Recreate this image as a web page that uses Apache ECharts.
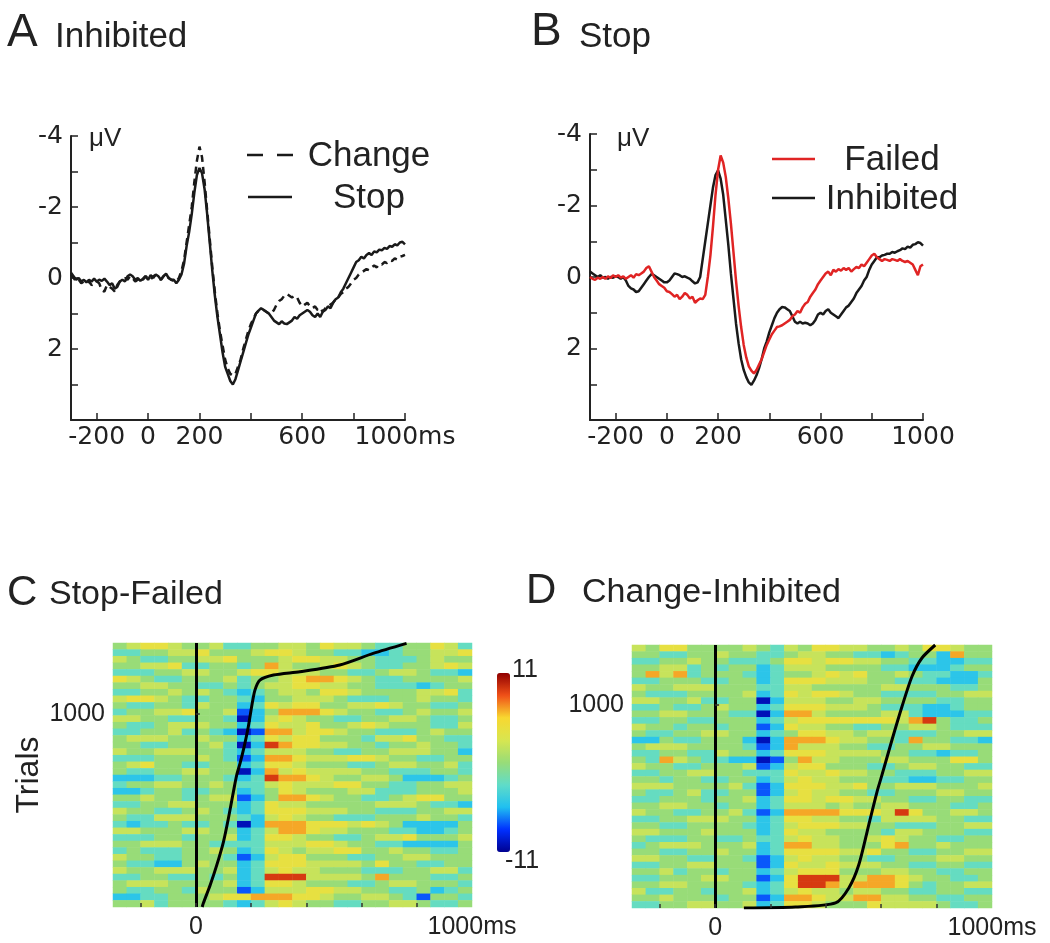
<!DOCTYPE html>
<html>
<head>
<meta charset="utf-8">
<script src="https://cdn.jsdelivr.net/npm/echarts@6/dist/echarts.min.js"></script>
<style>
html, body { margin: 0; padding: 0; background: #fff; }
#chart { width: 1050px; height: 943px; }
</style>
</head>
<body>
<div id="chart"></div>
<script>
// ERP sample grid, ms (10 ms steps)
var erpTimes = [];
for (var t = -300; t <= 1000; t += 10) erpTimes.push(t);

// A: Inhibited trials, Change vs Stop (uV)
var inhibitedChange = [
	-0.1, 0.0, 0.1, 0.05, 0.15, 0.1, 0.15, 0.1, 0.2, 0.15,
	0.1, 0.15, 0.35, 0.38, 0.2, 0.25, 0.3, 0.38, 0.2, 0.1,
	0.05, 0.0, 0.05, -0.05, 0.0, 0.1, 0.05, 0.0, 0.05, -0.05,
	0.0, 0.05, -0.05, -0.08, 0.0, 0.05, -0.05, -0.1, 0.0, 0.05,
	0.08, 0.1, 0.0, -0.2, -0.5, -1.0, -1.5, -2.0, -2.7, -3.3,
	-3.7, -3.4, -2.7, -1.9, -1.1, -0.3, 0.4, 1.0, 1.5, 1.9,
	2.3, 2.55, 2.7, 2.75, 2.7, 2.5, 2.3, 2.0, 1.75, 1.5,
	1.3, 1.15, 1.0, 0.92, 0.88, 0.9, 0.95, 1.0, 1.0, 0.9,
	0.75, 0.65, 0.6, 0.5, 0.45, 0.5, 0.55, 0.5, 0.55, 0.7,
	0.8, 0.75, 0.7, 0.8, 0.85, 0.8, 0.9, 0.85, 0.95, 0.85,
	0.8, 0.75, 0.7, 0.6, 0.55, 0.45, 0.4, 0.3, 0.25, 0.15,
	0.05, 0.0, -0.1, -0.15, -0.2, -0.25, -0.22, -0.3, -0.35, -0.3,
	-0.4, -0.38, -0.45, -0.42, -0.5, -0.48, -0.55, -0.52, -0.6, -0.62,
	-0.65
];
var inhibitedStop = [
	-0.15, -0.05, 0.05, 0.0, 0.1, 0.05, 0.12, 0.05, 0.1, 0.02,
	0.1, 0.05, 0.08, 0.02, 0.1, 0.2, 0.15, 0.3, 0.25, 0.1,
	0.05, 0.1, -0.05, -0.1, -0.05, 0.05, 0.0, 0.08, 0.02, -0.05,
	0.05, -0.08, 0.0, -0.1, -0.05, 0.05, -0.05, -0.12, 0.0, 0.05,
	0.05, 0.15, 0.05, -0.1, -0.4, -0.9, -1.3, -1.8, -2.4, -2.9,
	-3.1, -2.95, -2.5, -1.8, -1.0, -0.2, 0.5, 1.1, 1.6, 2.1,
	2.5, 2.7, 2.9, 3.0, 2.85, 2.6, 2.35, 2.1, 1.85, 1.6,
	1.4, 1.2, 1.0, 0.92, 0.85, 0.9, 0.95, 1.0, 1.1, 1.2,
	1.25, 1.3, 1.22, 1.28, 1.3, 1.25, 1.2, 1.1, 1.15, 1.05,
	1.0, 0.95, 0.9, 0.95, 1.05, 1.1, 1.0, 1.1, 0.95, 0.9,
	0.8, 0.85, 0.7, 0.6, 0.55, 0.4, 0.3, 0.15, 0.0, -0.15,
	-0.3, -0.45, -0.5, -0.6, -0.55, -0.65, -0.7, -0.65, -0.75, -0.72,
	-0.8, -0.78, -0.85, -0.82, -0.9, -0.88, -0.95, -0.92, -1.0, -1.02,
	-0.95
];

// B: Stop trials, Failed vs Inhibited (uV)
var stopFailed = [
	0.0, 0.05, 0.08, 0.02, 0.05, 0.0, 0.05, -0.02, 0.03, -0.05,
	0.0, -0.05, 0.02, -0.02, 0.05, 0.0, -0.05, 0.02, -0.08, -0.05,
	-0.1, -0.15, -0.25, -0.3, -0.15, 0.0, 0.1, 0.2, 0.25, 0.3,
	0.4, 0.42, 0.48, 0.55, 0.5, 0.62, 0.55, 0.45, 0.5, 0.6,
	0.55, 0.72, 0.65, 0.6, 0.62, 0.5, 0.0, -0.6, -1.4, -2.3,
	-3.0, -3.4, -3.2, -2.8, -2.2, -1.5, -0.7, 0.1, 0.8, 1.4,
	1.9, 2.25, 2.5, 2.62, 2.7, 2.6, 2.45, 2.3, 2.1, 1.9,
	1.75, 1.6, 1.5, 1.4, 1.38, 1.35, 1.3, 1.25, 1.2, 1.1,
	1.05, 0.95, 1.0, 0.85, 0.75, 0.7, 0.55, 0.45, 0.35, 0.2,
	0.1, 0.0, -0.1, -0.15, -0.05, -0.2, -0.15, -0.22, -0.18, -0.25,
	-0.2, -0.25, -0.15, -0.22, -0.28, -0.25, -0.35, -0.3, -0.4, -0.5,
	-0.6, -0.65, -0.55, -0.5, -0.45, -0.5, -0.48, -0.45, -0.5, -0.48,
	-0.45, -0.5, -0.45, -0.42, -0.45, -0.4, -0.35, -0.2, -0.05, -0.3,
	-0.35
];
var stopInhibited = [
	-0.15, -0.1, -0.05, 0.0, -0.05, 0.02, 0.0, 0.05, 0.0, 0.02,
	-0.02, 0.0, 0.05, 0.0, 0.1, 0.25, 0.32, 0.35, 0.42, 0.4,
	0.3, 0.2, 0.1, 0.0, -0.08, -0.05, 0.0, 0.05, 0.1, 0.15,
	0.15, 0.1, 0.0, -0.1, -0.08, -0.05, 0.0, -0.02, 0.02, 0.05,
	0.12, 0.18, 0.15, 0.0, -0.5, -1.0, -1.5, -2.0, -2.5, -2.85,
	-2.98, -2.75, -2.3, -1.6, -0.9, -0.1, 0.6, 1.3, 1.85, 2.3,
	2.6, 2.8, 2.95, 3.02, 2.9, 2.75, 2.55, 2.3, 2.0, 1.8,
	1.55, 1.35, 1.15, 1.0, 0.9, 0.84, 0.85, 0.9, 0.95, 1.1,
	1.25, 1.3, 1.25, 1.3, 1.28, 1.3, 1.35, 1.3, 1.2, 1.05,
	1.0, 1.05, 0.95, 0.9, 1.0, 1.05, 1.1, 1.15, 1.05, 0.95,
	0.85, 0.8, 0.7, 0.6, 0.45, 0.35, 0.25, 0.1, 0.0, -0.2,
	-0.35, -0.45, -0.55, -0.55, -0.6, -0.62, -0.65, -0.65, -0.7, -0.68,
	-0.72, -0.75, -0.8, -0.78, -0.85, -0.82, -0.9, -0.92, -0.97, -0.95,
	-0.88
];

// C, D: single-trial images (50 ms bins, trial bands listed top to bottom)
var heatCols = [-275, -225, -175, -125, -75, -25, 25, 75, 125, 175, 225, 275, 325,
	375, 425, 475, 525, 575, 625, 675, 725, 775, 825, 875, 925, 975];
// B=-10 b=-7.5 c=-5 a=-2.5 g=0 l=2 y=4 o=6.5 r=9 (uV)
var shade = { B: -10, b: -7.5, c: -5, a: -2.5, g: 0, l: 2, y: 4, o: 6.5, r: 9 };

var stopFailedRows = [
	"glyylg gla ag gllgy llga aggyla",
	"aaggll ygg gl yylgg aacc agglly",
	"lgaagg lly gg glyyl lgga aaglgg",
	"ggllya agg ag olggl ylga agglyl",
	"aaaggl lgg ly ylllg gaag llgaac",
	"ylgaag ggl ag glyoo ylga aggggl",
	"ggllgg aag ag llyyl lgga aacagg",
	"aagglg lga ca gllgy ylgg ggllya",
	"lyylga agg ac gglll gaaa gglgga",
	"gaagga lgg ca ylyyg glly lggaag",
	"agglly ggl bc goooy lgga aglggl",
	"llggaa gga Bc lylgg aagg llgaag",
	"gaagll lgg ca yllyg glyl gggaal",
	"aaggla gac Bb oolyy lgga aaglgg",
	"glllgg lgg ca ylyyg ggal lyggaa",
	"ggaagg gla Bc royyl lgga gglgga",
	"lgglll gga ca lllgg aagg lllggc",
	"aaaggg lga bc ooyll lyyl ggaagg",
	"glygga agg ca yylgg gaag llggla",
	"gaaggl lgg Bc olyll llgg aaagga",
	"cccaag gga ca rooyl ggll gcccag",
	"aggllg glg aa lylll yygg aaggll",
	"ccagga agg ca gylgg glla aagggl",
	"gglgga gll bc gooyl ggaa glyygg",
	"aaggll ggg ca yllgg gggl llgaac",
	"lggaag lga ca yyyll lgga aaggll",
	"gaalll ggg ac lylgg aaag gglgga",
	"acaaga aga Bc oooyy ylyl gccccg",
	"llgggl lgg ca looyl lggg aaccag",
	"aaagga ggl ca yylgg aagl lygggl",
	"gglllg gaa aa lllyy lgga accccg",
	"agaaag glg ca ylgll yygg lggaag",
	"lggaag gga bc lyygg gaag gllggg",
	"gaaccg lgg ca yyyll llgy ggaagg",
	"lgglll ggl ca lyllg ggaa agglla",
	"aaggaa gag ca rrrll llgo gggaag",
	"glllgg ggl ca yylgg gaag llggga",
	"gaagga lgg bc lllyy llgg aagcag",
	"ccaagg gly yo ooyyl ggll gabgga",
	"gglagg gga ca lylgg aagg llgaag"
];
var changeInhibitedRows = [
	"lgyygg ggl ga lgyyl lggl gyylgg",
	"ggaagg lgg aa gllgg aaca ggcogg",
	"aagglg gaa ag yylyy llgg aaccaa",
	"ggllag agg ca lllgg ggaa cccagg",
	"goloag gga ca gglyl yggl gaacca",
	"aaggga agg ca yyyll lgga aacccg",
	"lgglll ggg aa llggg ggll gggaag",
	"gaaagg ggl ca ylyyl ggaa aaggll",
	"llggla agg Bc lllgg llgg ggaagg",
	"aagaag lgg ca yyyll lgaa accagg",
	"ggllgg gaa Bc oolgg ggll acccaa",
	"aaggaa ggg ca lyyyy yyyl orgaag",
	"lggagg agg bc yllgg aagg llgaaa",
	"gaaggl lgg ca gyyll glla aaggll",
	"ccgaag ggc Bc oooyl lgga oggaac",
	"glllgg gga bc olllg gaag gllggg",
	"aaggaa lgg ca yyyll llgg aacaag",
	"gaolga acc Bb gollg ggll gggyyg",
	"lggaag ggl bc lyygg gaag llggaa",
	"aaggll gga aa yllyl lgga aaggll",
	"ggagga agg ca lyllg ggaa ccaagg",
	"lllggg gla bc yyyll yggl llgggl",
	"gaagla agg bc lyllg gaag ggllgg",
	"aaggga ggl ca yylyy llgg aaggaa",
	"ggllgg agg ca lllgl ggll gggaag",
	"lggaag gla bc ooooy yylr yggllg",
	"aaggll lgg ca yyllg gall llggaa",
	"ggaagg gga ca lyyyl lgga aaggll",
	"llgggl ggg ca yllgg ggal lgggaa",
	"gaaagg aag aa lyllg glyl ggaagg",
	"aglllg ggl ca oollg ggyo gglggg",
	"ggaagg lgg ca yyyyl lygg aaggll",
	"llggaa gga bc lyllg gaag ggllgg",
	"aaggll ggg bc yllyl llgg aaggaa",
	"gglagg agg ca lyyyg ggll ggaagg",
	"aagggl lgg bc yrrrl looy lggaag",
	"ggllgg gga ca yrrol oooy gaggll",
	"laagga ggl ca lyllg llgg aaggaa",
	"gglggg agg bc ooyll ooll ggaagg",
	"aaggll ggl ca yylgg gyll llgaag"
];

// sorted reaction times over the images (ms, trial number)
var rtStopFailedMs = [23, 27, 52, 76, 100, 118, 136, 148, 160, 175, 190, 202, 214, 232, 281, 377, 521, 642, 763];
var rtStopFailedTrial = [0, 19, 114, 218, 338, 460, 597, 684, 744, 831, 934, 1038, 1124, 1176, 1202, 1219, 1254, 1314, 1366];
var rtChangeInhMs = [104, 290, 435, 483, 519, 555, 585, 603, 639, 675, 711, 747, 795];
var rtChangeInhTrial = [0, 5, 25, 99, 213, 410, 574, 657, 829, 993, 1141, 1232, 1296];
var nTrialsStopFailed = 1368;
var nTrialsChangeInh = 1296;

var ink = '#222';
var tickFont = 'DejaVu Sans';
var textFont = 'Liberation Sans';
var jet = ['#000090', '#0030ff', '#20c0f0', '#60dcc8', '#98dc78', '#d8e650', '#f8d830', '#f05018', '#900000'];

function pairs(xs, ys) {
	var out = [];
	for (var i = 0; i < xs.length; i++) out.push([xs[i], ys[i]]);
	return out;
}

function heatData(rows) {
	var out = [];
	rows.forEach(function (row, r) {
		var cells = row.replace(/ /g, '');
		for (var c = 0; c < cells.length; c++) out.push([c, r, shade[cells.charAt(c)]]);
	});
	return out;
}

function rowIndex(rows) {
	var out = [];
	for (var i = 0; i < rows.length; i++) out.push(String(i));
	return out;
}

function erpX(gridIndex, lastLabel) {
	return {
		type: 'value', gridIndex: gridIndex, min: -300, max: 1000,
		axisLine: { show: true, onZero: false, lineStyle: { color: ink, width: 2 } },
		axisTick: { show: true, inside: true, length: 7, customValues: [-200, 0, 200, 400, 600, 800, 1000], lineStyle: { color: ink, width: 1.5 } },
		axisLabel: {
			customValues: [-200, 0, 200, 600, 1000], margin: 5, color: ink, fontFamily: tickFont, fontSize: 25,
			formatter: function (v) { return v === 1000 ? lastLabel : String(v); }
		},
		splitLine: { show: false }
	};
}

function erpY(gridIndex) {
	return {
		type: 'value', gridIndex: gridIndex, min: -4, max: 4, inverse: true,
		axisLine: { show: true, onZero: false, lineStyle: { color: ink, width: 2 } },
		axisTick: { show: true, inside: true, length: 7, customValues: [-4, -3, -2, -1, 0, 1, 2, 3], lineStyle: { color: ink, width: 1.5 } },
		axisLabel: { customValues: [-4, -2, 0, 2], margin: 8, color: ink, fontFamily: tickFont, fontSize: 25 },
		splitLine: { show: false }
	};
}

function imageX(gridIndex) {
	return {
		type: 'value', gridIndex: gridIndex, min: -300, max: 1000, z: 10,
		axisLine: { show: false },
		axisTick: { show: true, inside: true, length: 4, customValues: [-200, 0, 200, 400, 600, 800], lineStyle: { color: '#333', width: 1.5 } },
		axisLabel: {
			customValues: [0, 1000], margin: 8, color: ink, fontFamily: textFont, fontSize: 25,
			formatter: function (v) { return v === 1000 ? '1000ms' : String(v); }
		},
		splitLine: { show: false }
	};
}

function imageY(gridIndex, nTrials, name) {
	return {
		type: 'value', gridIndex: gridIndex, min: 0, max: nTrials, z: 10,
		name: name, nameLocation: 'middle', nameGap: 68, nameRotate: 90,
		nameTextStyle: { color: ink, fontFamily: textFont, fontSize: 32 },
		axisLine: { show: false },
		axisTick: { show: true, inside: true, length: 4, customValues: [1000], lineStyle: { color: '#333', width: 1.5 } },
		axisLabel: {
			customValues: [1000], margin: 8, color: ink, fontFamily: textFont, fontSize: 25,
			formatter: function (v) { return String(v); }
		},
		splitLine: { show: false }
	};
}

function catAxis(gridIndex, data, inverse) {
	return { type: 'category', gridIndex: gridIndex, data: data, show: false, inverse: !!inverse };
}

function zeroLine() {
	return {
		symbol: 'none', silent: true, label: { show: false },
		lineStyle: { color: '#000', width: 3, type: 'solid' },
		data: [{ xAxis: 0 }]
	};
}

function txt(x, y, text, size, align) {
	return {
		type: 'text', x: x, y: y, silent: true,
		style: { text: text, fill: ink, font: size + 'px "' + textFont + '"', align: align || 'left', verticalAlign: 'middle' }
	};
}

function seg(x1, y, x2, color, dash) {
	return {
		type: 'line', silent: true, shape: { x1: x1, y1: y, x2: x2, y2: y },
		style: { stroke: color, lineWidth: 2.5, lineDash: dash || null }
	};
}

var chart = echarts.init(document.getElementById('chart'));

var option = {
	animation: false,
	backgroundColor: '#fff',
	grid: [
		{ left: 71, top: 136, width: 334, height: 284 },
		{ left: 590, top: 134, width: 333, height: 286 },
		{ left: 113, top: 643, width: 359, height: 264 },
		{ left: 113, top: 643, width: 359, height: 264 },
		{ left: 632, top: 645, width: 360, height: 263 },
		{ left: 632, top: 645, width: 360, height: 263 }
	],
	xAxis: [
		erpX(0, '1000ms'),
		erpX(1, '1000'),
		catAxis(2, heatCols),
		imageX(3),
		catAxis(4, heatCols),
		imageX(5)
	],
	yAxis: [
		erpY(0),
		erpY(1),
		catAxis(2, rowIndex(stopFailedRows), true),
		imageY(3, nTrialsStopFailed, 'Trials'),
		catAxis(4, rowIndex(changeInhibitedRows), true),
		imageY(5, nTrialsChangeInh, '')
	],
	visualMap: [
		{
			type: 'continuous', seriesIndex: 4, min: -11, max: 11, calculable: false,
			show: true, left: 497, top: 673, itemWidth: 13, itemHeight: 179, padding: 0,
			text: null, inRange: { color: jet }
		},
		{
			type: 'continuous', seriesIndex: 6, min: -11, max: 11, show: false,
			inRange: { color: jet }
		}
	],
	series: [
		{
			name: 'Change', type: 'line', xAxisIndex: 0, yAxisIndex: 0, showSymbol: false,
			data: pairs(erpTimes, inhibitedChange),
			lineStyle: { color: '#1a1a1a', width: 2.5, type: [7, 5] }
		},
		{
			name: 'Stop', type: 'line', xAxisIndex: 0, yAxisIndex: 0, showSymbol: false,
			data: pairs(erpTimes, inhibitedStop),
			lineStyle: { color: '#1a1a1a', width: 2.5 }
		},
		{
			name: 'Inhibited', type: 'line', xAxisIndex: 1, yAxisIndex: 1, showSymbol: false,
			data: pairs(erpTimes, stopInhibited),
			lineStyle: { color: '#1a1a1a', width: 2.5 }
		},
		{
			name: 'Failed', type: 'line', xAxisIndex: 1, yAxisIndex: 1, showSymbol: false,
			data: pairs(erpTimes, stopFailed),
			lineStyle: { color: '#e02424', width: 2.5 }
		},
		{
			name: 'Stop-Failed', type: 'heatmap', xAxisIndex: 2, yAxisIndex: 2,
			data: heatData(stopFailedRows), progressive: 0, itemStyle: { borderWidth: 0 }
		},
		{
			name: 'RT Stop-Failed', type: 'line', xAxisIndex: 3, yAxisIndex: 3, showSymbol: false, smooth: 0.25,
			data: pairs(rtStopFailedMs, rtStopFailedTrial),
			lineStyle: { color: '#000', width: 3 },
			markLine: zeroLine()
		},
		{
			name: 'Change-Inhibited', type: 'heatmap', xAxisIndex: 4, yAxisIndex: 4,
			data: heatData(changeInhibitedRows), progressive: 0, itemStyle: { borderWidth: 0 }
		},
		{
			name: 'RT Change-Inhibited', type: 'line', xAxisIndex: 5, yAxisIndex: 5, showSymbol: false, smooth: 0.25,
			data: pairs(rtChangeInhMs, rtChangeInhTrial),
			lineStyle: { color: '#000', width: 3 },
			markLine: zeroLine()
		}
	],
	graphic: [
		// panel letters and titles
		txt(7, 33, 'A', 46), txt(55, 37, 'Inhibited', 35),
		txt(531, 32, 'B', 46), txt(579, 37, 'Stop', 35),
		txt(7, 593, 'C', 42), txt(49, 595, 'Stop-Failed', 34),
		txt(526, 591, 'D', 42), txt(582, 593, 'Change-Inhibited', 34),
		// units
		txt(89, 139, 'μV', 26), txt(617, 139, 'μV', 26),
		// legend A
		seg(247, 155, 293, '#1a1a1a', [16, 14]), txt(369, 156, 'Change', 35, 'center'),
		seg(248, 197, 292, '#1a1a1a'), txt(369, 198, 'Stop', 35, 'center'),
		// legend B
		seg(772, 159, 815, '#e02424'), txt(892, 160, 'Failed', 35, 'center'),
		seg(772, 198, 815, '#1a1a1a'), txt(892, 199, 'Inhibited', 35, 'center'),
		// colour bar ends
		txt(512, 670, '11', 25), txt(505, 861, '-11', 25)
	]
};

chart.setOption(option);
</script>
</body>
</html>
